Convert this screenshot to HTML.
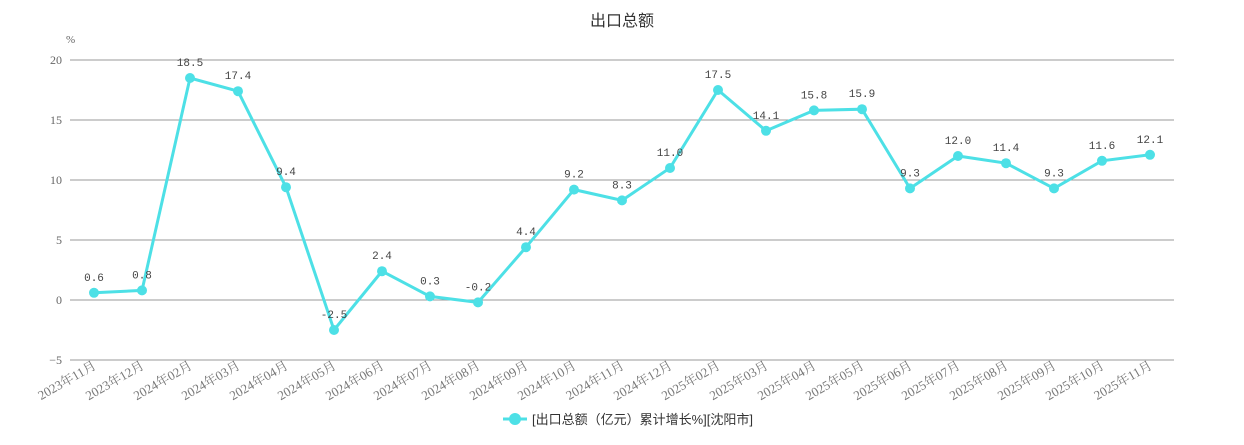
<!DOCTYPE html>
<html><head><meta charset="utf-8"><style>
body{margin:0;background:#fff;width:1244px;height:440px;overflow:hidden}
</style></head><body>
<svg id="c" width="1244" height="440" xmlns="http://www.w3.org/2000/svg">
<text x="622" y="26" text-anchor="middle" font-family="Liberation Sans, Noto Sans CJK SC, sans-serif" font-size="16" fill="#333">出口总额</text>
<text x="66" y="43" font-family="Liberation Serif, serif" font-size="11" fill="#666">%</text>
<g id="g"></g>
<line x1="503" y1="419" x2="527" y2="419" stroke="#4de0e6" stroke-width="3"/>
<circle cx="515" cy="419" r="6" fill="#4de0e6"/>
<text x="532" y="424" font-family="Liberation Sans, Noto Sans CJK SC, sans-serif" font-size="13" fill="#333">[出口总额（亿元）累计增长%][沈阳市]</text>
</svg>
<script>
const v=[0.6,0.8,18.5,17.4,9.4,-2.5,2.4,0.3,-0.2,4.4,9.2,8.3,11.0,17.5,14.1,15.8,15.9,9.3,12.0,11.4,9.3,11.6,12.1];
const lab=["2023年11月","2023年12月"];
for(let m=2;m<=12;m++)lab.push("2024年"+String(m).padStart(2,"0")+"月");
for(let m=2;m<=11;m++)lab.push("2025年"+String(m).padStart(2,"0")+"月");
const X=i=>94+48*i,Y=val=>300-12*val;
let s="";
for(let t=-5;t<=20;t+=5){s+=`<line x1="70" x2="1174" y1="${Y(t)}" y2="${Y(t)}" stroke="#999" stroke-width="1"/>`;
s+=`<text x="62" y="${Y(t)+4}" text-anchor="end" font-family="Liberation Serif, serif" font-size="12" fill="#666">${t<0?"−"+(-t):t}</text>`;}
lab.forEach((l,i)=>{s+=`<text transform="translate(${X(i)+3},368) rotate(-30)" text-anchor="end" font-family="Liberation Serif, Noto Serif CJK SC, serif" font-size="13" fill="#777">${l}</text>`;});
s+=`<polyline fill="none" stroke="#4de0e6" stroke-width="3" points="${v.map((a,i)=>X(i)+","+Y(a)).join(" ")}"/>`;
v.forEach((a,i)=>{s+=`<circle cx="${X(i)}" cy="${Y(a)}" r="5" fill="#4de0e6"/>`;
s+=`<text x="${X(i)}" y="${Y(a)-12}" text-anchor="middle" font-family="Liberation Mono, monospace" font-size="11" fill="#444">${a.toFixed(1)}</text>`;});
document.getElementById("g").innerHTML=s;
</script>
</body></html>
